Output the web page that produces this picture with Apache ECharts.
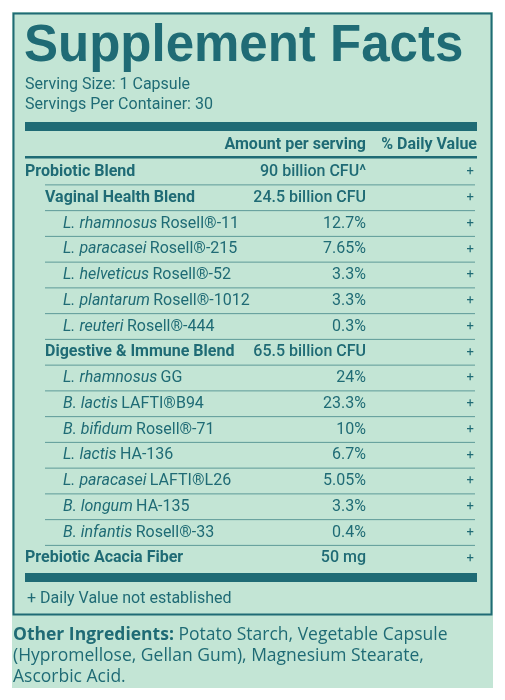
<!DOCTYPE html>
<html><head><meta charset="utf-8">
<script src="https://cdn.jsdelivr.net/npm/echarts@6/dist/echarts.min.js"></script>
<style>html,body{margin:0;padding:0;background:#fff}#main{width:505px;height:700px}</style>
</head><body><div id="main"></div>
<script>
// label rows
var rowItalic = ['', '', 'L. rhamnosus', 'L. paracasei', 'L. helveticus', 'L. plantarum', 'L. reuteri', '', 'L. rhamnosus', 'B. lactis', 'B. bifidum', 'L. lactis', 'L. paracasei', 'B. longum', 'B. infantis', ''];
var rowNames = ['Probiotic Blend', 'Vaginal Health Blend', 'Rosell®-11', 'Rosell®-215', 'Rosell®-52', 'Rosell®-1012', 'Rosell®-444', 'Digestive & Immune Blend', 'GG', 'LAFTI®B94', 'Rosell®-71', 'HA-136', 'LAFTI®L26', 'HA-135', 'Rosell®-33', 'Prebiotic Acacia Fiber'];
var rowLevels = [0, 1, 2, 2, 2, 2, 2, 1, 2, 2, 2, 2, 2, 2, 2, 0];
var rowAmounts = ['90 billion CFU^', '24.5 billion CFU', '12.7%', '7.65%', '3.3%', '3.3%', '0.3%', '65.5 billion CFU', '24%', '23.3%', '10%', '6.7%', '5.05%', '3.3%', '0.4%', '50 mg'];
var rowDV = ['+', '+', '+', '+', '+', '+', '+', '+', '+', '+', '+', '+', '+', '+', '+', '+'];

var teal = '#1f6b75', bg = '#c3e5d5';
var narrow = 'Roboto, sans-serif';
var els = [];
els.push({ type: 'rect', shape: { x: 12, y: 12, width: 481, height: 676 }, style: { fill: bg } });
els.push({ type: 'rect', shape: { x: 13.5, y: 13.5, width: 478, height: 601 }, style: { fill: 'none', stroke: teal, lineWidth: 2 } });
els.push({ type: 'text', x: 24, y: 47, style: { text: 'Supplement Facts', fill: teal, font: 'bold 51px "Liberation Sans", Arial, sans-serif', textVerticalAlign: 'middle' } });
els.push({ type: 'text', x: 25, y: 85, style: { text: 'Serving Size: 1 Capsule', fill: teal, font: '16px ' + narrow, textVerticalAlign: 'middle' } });
els.push({ type: 'text', x: 25, y: 105, style: { text: 'Servings Per Container: 30', fill: teal, font: '16px ' + narrow, textVerticalAlign: 'middle' } });
els.push({ type: 'rect', shape: { x: 25, y: 122, width: 452, height: 9 }, style: { fill: teal } });
els.push({ type: 'text', x: 366, y: 145, style: { text: 'Amount per serving', fill: teal, font: 'bold 16px ' + narrow, textAlign: 'right', textVerticalAlign: 'middle' } });
els.push({ type: 'text', x: 477, y: 145, style: { text: '% Daily Value', fill: teal, font: 'bold 16px ' + narrow, textAlign: 'right', textVerticalAlign: 'middle' } });
els.push({ type: 'rect', shape: { x: 25, y: 156, width: 452, height: 2.5 }, style: { fill: teal } });

var y0 = 172, dy = 25.75, indent = [25, 45, 63];
rowNames.forEach(function (n, i) {
  var y = y0 + i * dy, lv = rowLevels[i];
  var bold = lv < 2;
  var txt = rowItalic[i] ? '{i|' + rowItalic[i] + '} {n|' + n + '}' : '{b|' + n + '}';
  els.push({ type: 'text', x: indent[lv], y: y, style: { text: txt, fill: teal, textVerticalAlign: 'middle',
    rich: { i: { fontStyle: 'italic', fontSize: 16, fontFamily: narrow, fill: teal },
            n: { fontSize: 16, fontFamily: narrow, fill: teal },
            b: { fontWeight: 'bold', fontSize: 16, fontFamily: narrow, fill: teal } } } });
  els.push({ type: 'text', x: 366, y: y, style: { text: rowAmounts[i], fill: teal, font: (bold ? '500 ' : '') + '16px ' + narrow, textAlign: 'right', textVerticalAlign: 'middle' } });
  els.push({ type: 'text', x: 474, y: y, style: { text: rowDV[i], fill: teal, font: '13px ' + narrow, textAlign: 'right', textVerticalAlign: 'middle' } });
  if (i < rowNames.length - 1) {
    els.push({ type: 'line', shape: { x1: 45, y1: y + dy / 2, x2: 475, y2: y + dy / 2 }, style: { stroke: '#5d9a98', lineWidth: 1 } });
  }
});
els.push({ type: 'rect', shape: { x: 25, y: 573, width: 452, height: 9 }, style: { fill: teal } });
els.push({ type: 'text', x: 27, y: 599, style: { text: '+ Daily Value not established', fill: teal, font: '16px ' + narrow, textVerticalAlign: 'middle' } });
var sans = '"Open Sans", "Noto Sans", sans-serif';
var other = ['{b|Other Ingredients:} Potato Starch, Vegetable Capsule', '(Hypromellose, Gellan Gum), Magnesium Stearate,', 'Ascorbic Acid.'];
other.forEach(function (t, i) {
  els.push({ type: 'text', x: 13, y: 635 + i * 21, style: { text: t, fill: teal, font: '17.5px ' + sans, textVerticalAlign: 'middle',
    rich: { b: { fontWeight: 'bold', fontSize: 17.5, fontFamily: sans, fill: teal } } } });
});

var chart = echarts.init(document.getElementById('main'));
chart.setOption({ backgroundColor: '#fff', animation: false, graphic: els });
window.onresize = function () { chart.resize(); };
</script></body></html>
